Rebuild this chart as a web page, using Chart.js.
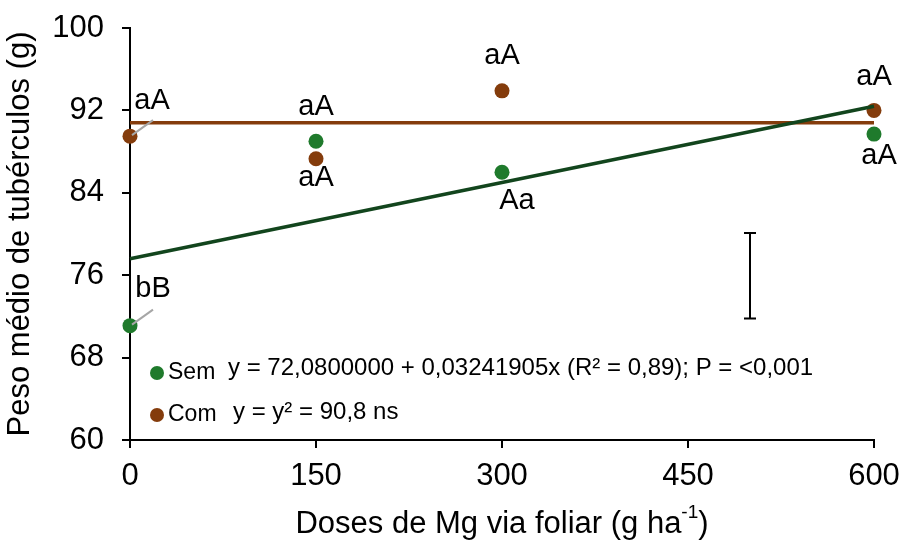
<!DOCTYPE html>
<html>
<head>
<meta charset="utf-8">
<script src="https://cdn.jsdelivr.net/npm/chart.js@4.4.1/dist/chart.umd.min.js"></script>
<style>
  html, body { margin: 0; padding: 0; background: #fff; }
  #wrap { width: 902px; height: 540px; }
</style>
</head>
<body>
<div id="wrap"><canvas id="chart" width="902" height="540"></canvas></div>
<script>
// Dados
const doses = [0, 150, 300, 600];
const semValues = [71.1, 89.0, 86.0, 89.7];
const comValues = [89.5, 87.3, 93.9, 92.0];
const semLabels = ['bB', 'aA', 'Aa', 'aA'];
const comLabels = ['aA', 'aA', 'aA', 'aA'];

// Retas ajustadas (extremos)
const trendDoses = [0, 600];
const semTrend = [77.6, 92.4];
const comTrend = [90.8, 90.8];

// Barra de DMS
const errorDose = 500;
const errorRange = [71.8, 80.1];

const semEquation = 'y = 72,0800000 + 0,03241905x (R\u00B2 = 0,89); P = <0,001';
const comEquation = 'y = y\u00B2 = 90,8 ns';

const FONT = "'Liberation Sans', Arial, sans-serif";
const GREEN = '#1f7a2c';
const GREEN_LINE = '#12451d';
const BROWN = '#843c0c';

// deslocamentos dos rótulos (px) em relação ao ponto
const semLabelOffsets = [[23, -37, true], [0, -34, false], [15, 29, false], [5, 22, false]];
const comLabelOffsets = [[22, -35, true], [0, 19, false], [0, -35, false], [0, -33, false]];

const toPoints = (xs, ys) => xs.map((x, i) => ({ x: x, y: ys[i] }));

const extras = {
    id: 'extras',
    afterDatasetsDraw(chart) {
        const ctx = chart.ctx;
        const xs = chart.scales.x;
        const ys = chart.scales.y;
        const area = chart.chartArea;

        // barra de erro
        const ex = xs.getPixelForValue(errorDose);
        const eTop = ys.getPixelForValue(errorRange[1]);
        const eBot = ys.getPixelForValue(errorRange[0]);
        ctx.save();
        ctx.strokeStyle = '#000';
        ctx.lineWidth = 2;
        ctx.beginPath();
        ctx.moveTo(ex, eTop); ctx.lineTo(ex, eBot);
        ctx.moveTo(ex - 6, eTop); ctx.lineTo(ex + 6, eTop);
        ctx.moveTo(ex - 6, eBot); ctx.lineTo(ex + 6, eBot);
        ctx.stroke();

        // rótulos das médias
        ctx.font = '29px ' + FONT;
        ctx.textAlign = 'center';
        ctx.textBaseline = 'middle';
        const drawLabels = (values, labels, offsets) => {
            values.forEach((v, i) => {
                const px = xs.getPixelForValue(doses[i]);
                const py = ys.getPixelForValue(v);
                const off = offsets[i];
                if (off[2]) {
                    ctx.strokeStyle = '#a6a6a6';
                    ctx.lineWidth = 2;
                    ctx.beginPath();
                    ctx.moveTo(px + 2, py - 1);
                    ctx.lineTo(px + 23, py - 16);
                    ctx.stroke();
                }
                ctx.fillStyle = '#000';
                ctx.fillText(labels[i], px + off[0], py + off[1]);
            });
        };
        drawLabels(semValues, semLabels, semLabelOffsets);
        drawLabels(comValues, comLabels, comLabelOffsets);

        // legenda com equações
        const lx = area.left + 27;
        const rows = [
            { color: GREEN, name: 'Sem', eq: semEquation, y: area.bottom - 67, eqX: area.left + 98, eqDy: -5 },
            { color: BROWN, name: 'Com', eq: comEquation, y: area.bottom - 25, eqX: area.left + 103, eqDy: -3 }
        ];
        ctx.textAlign = 'left';
        rows.forEach(r => {
            ctx.fillStyle = r.color;
            ctx.beginPath();
            ctx.arc(lx, r.y, 7, 0, Math.PI * 2);
            ctx.fill();
            ctx.fillStyle = '#000';
            ctx.font = '23px ' + FONT;
            ctx.fillText(r.name, lx + 11, r.y);
            ctx.font = '24px ' + FONT;
            ctx.fillText(r.eq, r.eqX, r.y + r.eqDy);
        });

        // título do eixo x com sobrescrito
        const t1 = 'Doses de Mg via foliar (g ha';
        const sup = '-1';
        const t3 = ')';
        ctx.font = '31px ' + FONT;
        const w1 = ctx.measureText(t1).width;
        const w3 = ctx.measureText(t3).width;
        ctx.font = '19px ' + FONT;
        const w2 = ctx.measureText(sup).width;
        const total = w1 + w2 + w3;
        const tx = (area.left + area.right) / 2 - total / 2;
        const ty = area.bottom + 84;
        ctx.font = '31px ' + FONT;
        ctx.fillText(t1, tx, ty);
        ctx.font = '19px ' + FONT;
        ctx.fillText(sup, tx + w1, ty - 11);
        ctx.font = '31px ' + FONT;
        ctx.fillText(t3, tx + w1 + w2, ty);
        ctx.restore();
    }
};

new Chart(document.getElementById('chart').getContext('2d'), {
    type: 'scatter',
    data: {
        datasets: [
            {
                type: 'line',
                data: toPoints(trendDoses, semTrend),
                borderColor: GREEN_LINE,
                borderWidth: 3.5,
                pointRadius: 0,
                fill: false,
                clip: false
            },
            {
                type: 'line',
                data: toPoints(trendDoses, comTrend),
                borderColor: BROWN,
                borderWidth: 3.5,
                pointRadius: 0,
                fill: false,
                clip: false
            },
            {
                label: 'Sem',
                data: toPoints(doses, semValues),
                backgroundColor: GREEN,
                borderWidth: 0,
                pointRadius: 7.5,
                clip: false
            },
            {
                label: 'Com',
                data: toPoints(doses, comValues),
                backgroundColor: BROWN,
                borderWidth: 0,
                pointRadius: 7.5,
                clip: false
            }
        ]
    },
    options: {
        responsive: false,
        animation: false,
        layout: { padding: { left: 0, right: 28, top: 28, bottom: 0 } },
        plugins: {
            legend: { display: false },
            tooltip: { enabled: false }
        },
        scales: {
            x: {
                type: 'linear',
                min: 0,
                max: 600,
                afterFit: (s) => { s.height = 100; s.paddingLeft = 0; s.paddingRight = 0; },
                ticks: {
                    stepSize: 150,
                    color: '#000',
                    padding: 10,
                    font: { family: FONT, size: 31 }
                },
                grid: {
                    drawOnChartArea: false,
                    drawTicks: true,
                    tickLength: 8,
                    color: '#000',
                    lineWidth: 2
                },
                border: { display: true, color: '#000', width: 2 }
            },
            y: {
                min: 60,
                max: 100,
                afterFit: (s) => { s.width = 130; s.paddingTop = 0; s.paddingBottom = 0; },
                ticks: {
                    stepSize: 8,
                    color: '#000',
                    padding: 18,
                    font: { family: FONT, size: 31 }
                },
                grid: {
                    drawOnChartArea: false,
                    drawTicks: true,
                    tickLength: 8,
                    color: '#000',
                    lineWidth: 2
                },
                border: { display: true, color: '#000', width: 2 },
                title: {
                    display: true,
                    text: 'Peso médio de tubérculos (g)',
                    color: '#000',
                    padding: { top: 2, bottom: 0 },
                    font: { family: FONT, size: 31 }
                }
            }
        }
    },
    plugins: [extras]
});
</script>
</body>
</html>
